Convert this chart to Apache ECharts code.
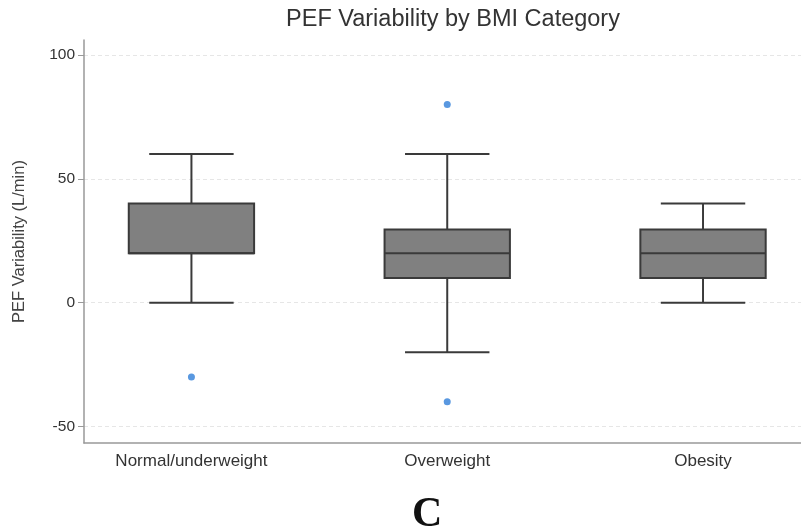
<!DOCTYPE html>
<html>
<head>
<meta charset="utf-8">
<script src="https://cdn.jsdelivr.net/npm/echarts@6/dist/echarts.min.js"></script>
<style>
  html, body { margin: 0; padding: 0; background: #fff; }
  #chartArea { width: 801px; height: 532px; }
</style>
</head>
<body>
<div id="chartArea"></div>
<script>
// BMI groups and box statistics (L/min)
var categories = ['Normal/underweight', 'Overweight', 'Obesity'];
var boxMin = [0, -20, 0];
var boxQ1 = [20, 10, 10];
var boxMedian = [20, 20, 20];
var boxQ3 = [40, 29.5, 29.5];
var boxMax = [60, 60, 40];
// outliers: [group index, value]
var outliers = [[0, -30], [1, 80], [1, -40]];
var yTicks = [-50, 0, 50, 100];
var xTicks = [0, 1, 2];

var chartDom = document.getElementById('chartArea');
var myChart = echarts.init(chartDom);

var boxData = [];
for (var i = 0; i < categories.length; i++) {
    boxData.push([i, boxMin[i], boxQ1[i], boxMedian[i], boxQ3[i], boxMax[i]]);
}

function renderBox(params, api) {
    var x = api.value(0);
    var pMin = api.coord([x, api.value(1)]);
    var pQ1 = api.coord([x, api.value(2)]);
    var pMed = api.coord([x, api.value(3)]);
    var pQ3 = api.coord([x, api.value(4)]);
    var pMax = api.coord([x, api.value(5)]);
    var unit = api.size([1, 0])[0];
    var boxW = unit * 0.49;
    var capW = unit * 0.33;
    var lineStyle = { stroke: '#3a3a3a', lineWidth: 2 };
    var cx = pMed[0];
    return {
        type: 'group',
        children: [
            { type: 'line', shape: { x1: cx, y1: pMax[1], x2: cx, y2: pQ3[1] }, style: lineStyle },
            { type: 'line', shape: { x1: cx, y1: pQ1[1], x2: cx, y2: pMin[1] }, style: lineStyle },
            { type: 'line', shape: { x1: cx - capW / 2, y1: pMax[1], x2: cx + capW / 2, y2: pMax[1] }, style: lineStyle },
            { type: 'line', shape: { x1: cx - capW / 2, y1: pMin[1], x2: cx + capW / 2, y2: pMin[1] }, style: lineStyle },
            { type: 'rect', shape: { x: cx - boxW / 2, y: pQ3[1], width: boxW, height: pQ1[1] - pQ3[1] },
              style: { fill: '#808080', stroke: '#3a3a3a', lineWidth: 2 } },
            { type: 'line', shape: { x1: cx - boxW / 2, y1: pMed[1], x2: cx + boxW / 2, y2: pMed[1] }, style: lineStyle }
        ]
    };
}

var option = {
    animation: false,
    backgroundColor: '#fff',
    title: {
        text: 'PEF Variability by BMI Category',
        left: 448,
        textAlign: 'center',
        top: 3,
        textStyle: { fontFamily: 'Liberation Sans', fontSize: 23.5, fontWeight: 'normal', color: '#333' }
    },
    grid: { left: 84, right: 0, top: 40, bottom: 89 },
    xAxis: {
        type: 'value',
        min: -0.42,
        max: 2.383,
        axisLine: { onZero: false, lineStyle: { color: '#999', width: 1.5 } },
        axisTick: { show: false },
        splitLine: { show: false },
        axisLabel: {
            customValues: xTicks,
            formatter: function (v) { return categories[v]; },
            fontFamily: 'Liberation Sans',
            fontSize: 17,
            color: '#333',
            margin: 10
        }
    },
    yAxis: {
        type: 'value',
        min: -56.6,
        max: 106,
        name: 'PEF Variability (L/min)',
        nameLocation: 'middle',
        nameGap: 56,
        nameTextStyle: { fontFamily: 'Liberation Sans', fontSize: 16.5, color: '#444' },
        axisLine: { show: true, onZero: false, lineStyle: { color: '#999', width: 1.5 } },
        axisTick: { show: true, customValues: yTicks, length: 6, lineStyle: { color: '#999' } },
        axisLabel: { customValues: yTicks, fontFamily: 'Liberation Sans', fontSize: 15.5, color: '#333', margin: 9 },
        splitLine: { show: true, lineStyle: { color: '#e6e6e6', type: [4, 3], width: 1 } }
    },
    graphic: [{
        type: 'text',
        left: 412,
        top: 494,
        style: { text: 'C', font: 'bold 42px "Liberation Serif"', fill: '#111' }
    }],
    series: [{
        type: 'custom',
        renderItem: renderBox,
        encode: { x: 0, y: [1, 2, 3, 4, 5] },
        data: boxData,
        z: 3
    }, {
        type: 'scatter',
        data: outliers,
        symbolSize: 7,
        itemStyle: { color: '#2f7ed8' },
        z: 4
    }]
};

option && myChart.setOption(option);
</script>
</body>
</html>
